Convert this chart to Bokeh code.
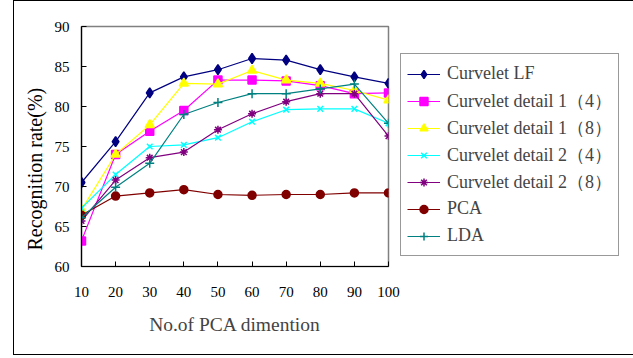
import math
from bokeh.plotting import figure
from bokeh.models import Range1d, Legend, LegendItem, Title, FixedTicker
from bokeh.embed import file_html
from bokeh.resources import INLINE

dims = [10, 20, 30, 40, 50, 60, 70, 80, 90, 100]
curvelet_lf = [70.5, 75.6, 81.7, 83.7, 84.6, 86.0, 85.8, 84.6, 83.7, 82.9]
detail1_4 = [63.2, 74.0, 76.9, 79.5, 83.3, 83.3, 83.2, 82.6, 81.6, 81.7]
detail1_8 = [67.1, 74.0, 77.7, 82.9, 82.8, 84.5, 83.3, 82.9, 82.0, 80.8]
detail2_4 = [67.3, 71.5, 75.0, 75.2, 76.1, 78.1, 79.6, 79.7, 79.7, 77.9]
detail2_8 = [65.7, 70.8, 73.6, 74.3, 77.1, 79.1, 80.6, 81.6, 81.6, 76.3]
pca = [66.4, 68.8, 69.2, 69.6, 69.0, 68.9, 69.0, 69.0, 69.2, 69.2]
lda = [66.1, 69.9, 72.9, 79.0, 80.5, 81.6, 81.6, 82.2, 82.8, 77.9]

series_names = ["Curvelet LF", "Curvelet detail 1（4）", "Curvelet detail 1（8）",
                "Curvelet detail 2（4）", "Curvelet detail 2（8）", "PCA", "LDA"]
y_ticks = [60, 65, 70, 75, 80, 85, 90]

series = [curvelet_lf, detail1_4, detail1_8, detail2_4, detail2_8, pca, lda]
colors = ["#000080", "#FF00FF", "#FFFF00", "#00FFFF", "#800080", "#800000", "#008080"]
markers = ["diamond", "square", "triangle", "x", "asterisk", "circle", "cross"]
msizes = [10, 8, 9, 8, 8, 8, 9]

FONT = "Liberation Serif"

p = figure(frame_width=307, frame_height=240, output_backend="svg", toolbar_location=None,
           x_range=Range1d(10, 100), y_range=Range1d(60, 90),
           min_border_left=67, min_border_right=234, min_border_top=25, min_border_bottom=88,
           margin=(0, 0, 0, 13))
p.styles = {"border": "1px solid black"}
p.grid.visible = False
p.outline_line_color = "#808080"
p.outline_line_width = 1.5
p.background_fill_color = "white"
p.border_fill_color = "white"

for ax in (p.xaxis[0], p.yaxis[0]):
    ax.axis_line_color = "black"
    ax.axis_line_width = 1.2
    ax.major_tick_in = 5
    ax.major_tick_out = 0
    ax.minor_tick_line_color = None
    ax.major_tick_line_color = "black"
    ax.major_label_text_font = FONT
    ax.major_label_text_font_size = "15px"
    ax.major_label_text_color = "black"

p.xaxis.ticker = FixedTicker(ticks=dims)
p.yaxis.ticker = FixedTicker(ticks=y_ticks)
p.xaxis.major_label_standoff = 20
p.yaxis.major_label_standoff = 12
p.xaxis.axis_label = "No.of PCA dimention"
p.xaxis.axis_label_text_font = FONT
p.xaxis.axis_label_text_font_size = "19.5px"
p.xaxis.axis_label_text_font_style = "normal"
p.xaxis.axis_label_standoff = 14

items = []
for name, ys, c, m, s in zip(series_names, series, colors, markers, msizes):
    r1 = p.line(dims, ys, line_color=c, line_width=1.2)
    r2 = p.scatter(dims, ys, marker=m, size=s, fill_color=c, line_color=c, line_width=1.5)
    items.append(LegendItem(label=name, renderers=[r1, r2]))

legend = Legend(items=items, location=(12, 10), padding=6, margin=0, spacing=0,
                label_height=27, glyph_height=20, glyph_width=33, label_standoff=7,
                label_text_font=FONT, label_text_font_size="18px",
                border_line_color="#333333", border_line_width=1.2,
                background_fill_color="white", background_fill_alpha=1)
p.add_layout(legend, "right")

p.add_layout(Title(text="Recognition rate(%)", align="left", offset=16,
                   text_font=FONT, text_font_size="20px", text_font_style="normal",
                   text_color="black", standoff=12), "left")

open("out.html", "w").write(file_html(p, INLINE))
